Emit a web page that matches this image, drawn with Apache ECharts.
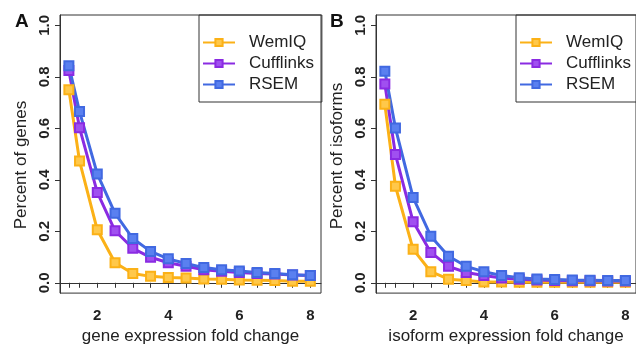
<!DOCTYPE html>
<html>
<head>
<meta charset="utf-8">
<script src="https://cdn.jsdelivr.net/npm/echarts@6/dist/echarts.min.js"></script>
<style>
  html, body { margin: 0; padding: 0; background: #fff; }
  #chart { width: 636px; height: 350px; }
</style>
</head>
<body>
<div id="chart"></div>
<script>
// fold change thresholds (x)
const foldChange = [1.2, 1.5, 2, 2.5, 3, 3.5, 4, 4.5, 5, 5.5, 6, 6.5, 7, 7.5, 8];

// panel A: genes
const geneWemIQ = [0.75, 0.473, 0.206, 0.078, 0.036, 0.025, 0.021, 0.019, 0.015, 0.014, 0.011, 0.010, 0.009, 0.006, 0.006];
const geneCufflinks = [0.824, 0.602, 0.351, 0.202, 0.134, 0.099, 0.078, 0.064, 0.051, 0.045, 0.040, 0.036, 0.034, 0.030, 0.028];
const geneRSEM = [0.843, 0.665, 0.423, 0.270, 0.172, 0.122, 0.093, 0.075, 0.059, 0.051, 0.046, 0.040, 0.036, 0.031, 0.028];

// panel B: isoforms
const isoWemIQ = [0.693, 0.375, 0.130, 0.043, 0.014, 0.009, 0.003, 0.003, 0.002, 0.002, 0.002, 0.002, 0.002, 0.002, 0.002];
const isoCufflinks = [0.772, 0.498, 0.237, 0.118, 0.064, 0.040, 0.028, 0.019, 0.014, 0.011, 0.009, 0.008, 0.008, 0.007, 0.007];
const isoRSEM = [0.822, 0.601, 0.331, 0.181, 0.103, 0.064, 0.043, 0.028, 0.020, 0.015, 0.013, 0.011, 0.010, 0.009, 0.009];

const yTicks = [0, 0.2, 0.4, 0.6, 0.8, 1.0];
const xLabels = [2, 4, 6, 8];
const methods = ['WemIQ', 'Cufflinks', 'RSEM'];

const colors = { WemIQ: '#FBB117', Cufflinks: '#8A2BE2', RSEM: '#4169E1' };
const fills = { WemIQ: '#FFC84A', Cufflinks: '#A050F0', RSEM: '#5A80F0' };
const FONT = '"Liberation Sans", Arial, sans-serif';

const zip = (ys) => foldChange.map((x, i) => [x, ys[i]]);

function xAxis(idx, name) {
  return {
    type: 'value', gridIndex: idx, min: 0.95, max: 8.3,
    name: name, nameLocation: 'middle', nameGap: 33,
    nameTextStyle: { fontFamily: FONT, fontSize: 17, color: '#222' },
    axisLine: { show: true, lineStyle: { color: '#333', width: 1 } },
    axisTick: { show: true, length: 5, customValues: foldChange, lineStyle: { color: '#333' } },
    axisLabel: {
      customValues: xLabels, margin: 15,
      fontFamily: FONT, fontSize: 15, fontWeight: 'bold', color: '#222'
    },
    splitLine: { show: false }
  };
}

// shift: right padding on the rotated name, moves it down on screen
function yAxis(idx, name, shift) {
  return {
    type: 'value', gridIndex: idx, min: -0.04, max: 1.04,
    name: name, nameLocation: 'middle', nameGap: 30,
    nameTextStyle: { fontFamily: FONT, fontSize: 17, color: '#222', padding: [0, shift, 0, 0] },
    axisLine: { show: true, lineStyle: { color: '#333', width: 1 } },
    axisTick: { show: true, length: 5, customValues: yTicks, lineStyle: { color: '#333' } },
    axisLabel: {
      customValues: yTicks, rotate: 90, margin: 8,
      formatter: (v) => v.toFixed(1),
      fontFamily: FONT, fontSize: 15, fontWeight: 'bold', color: '#222'
    },
    splitLine: { show: false }
  };
}

function lineSeries(name, ys, idx) {
  return {
    name: name, type: 'line', xAxisIndex: idx, yAxisIndex: idx,
    data: zip(ys),
    symbol: 'rect', symbolSize: 9,
    lineStyle: { color: colors[name], width: 3 },
    itemStyle: { color: fills[name], borderColor: colors[name], borderWidth: 2 },
    emphasis: { disabled: true },
    z: 2
  };
}

function legend(left) {
  return {
    data: methods, orient: 'vertical', left: left, top: 15,
    borderColor: '#333', borderWidth: 1, padding: [19, 8, 9, 3],
    itemWidth: 32, itemHeight: 9, itemGap: 4,
    textStyle: { fontFamily: FONT, fontSize: 17, color: '#222', padding: [0, 0, 0, 9] }
  };
}

const chart = echarts.init(document.getElementById('chart'));
chart.setOption({
  animation: false,
  backgroundColor: '#fff',
  title: [
    { text: 'A', left: 10, top: 7, textStyle: { fontFamily: FONT, fontSize: 19, fontWeight: 'bold', color: '#111' } },
    { text: 'B', left: 325, top: 7, textStyle: { fontFamily: FONT, fontSize: 19, fontWeight: 'bold', color: '#111' } }
  ],
  grid: [
    { left: 60, top: 15, width: 261, height: 287, show: true, borderColor: '#333', borderWidth: 1 },
    { left: 376, top: 15, width: 261, height: 287, show: true, borderColor: '#333', borderWidth: 1 }
  ],
  xAxis: [xAxis(0, 'gene expression fold change'), xAxis(1, 'isoform expression fold change')],
  yAxis: [yAxis(0, 'Percent of genes', 22), yAxis(1, 'Percent of isoforms', 4)],
  legend: [legend(199), legend(516)],
  series: [
    lineSeries('WemIQ', geneWemIQ, 0),
    lineSeries('Cufflinks', geneCufflinks, 0),
    lineSeries('RSEM', geneRSEM, 0),
    lineSeries('WemIQ', isoWemIQ, 1),
    lineSeries('Cufflinks', isoCufflinks, 1),
    lineSeries('RSEM', isoRSEM, 1)
  ]
});
</script>
</body>
</html>
